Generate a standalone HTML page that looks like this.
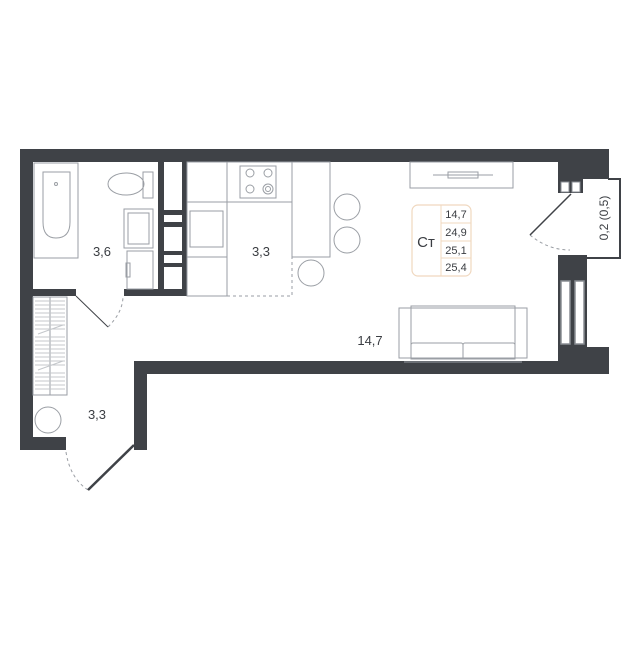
<!DOCTYPE html>
<html><head><meta charset="utf-8"><style>
html,body{margin:0;padding:0;background:#fff;}
svg text{font-family:"Liberation Sans",sans-serif;fill:#3a3d42;}
</style></head><body>
<svg width="640" height="640" viewBox="0 0 640 640" xmlns="http://www.w3.org/2000/svg">
<rect width="640" height="640" fill="#fff"/>
<g fill="#3f4247">
<rect x="20" y="149" width="589" height="13"/>
<rect x="20" y="149" width="13" height="301"/>
<rect x="20" y="437" width="46" height="13"/>
<rect x="134" y="361" width="475" height="13"/>
<rect x="134" y="361" width="13" height="89"/>
<rect x="558" y="149" width="51" height="30"/>
<rect x="558" y="179" width="25" height="14"/>
<rect x="558" y="255" width="29" height="23"/>
<rect x="558" y="278" width="29" height="69"/>
<rect x="558" y="347" width="51" height="27"/>
<rect x="20" y="289" width="56" height="7"/>
<rect x="124" y="289" width="63" height="7"/>
<rect x="158" y="162" width="29" height="134"/>
</g>
<g fill="#fff">
<rect x="164" y="162" width="18" height="48"/>
<rect x="164" y="215" width="18" height="7"/>
<rect x="164" y="227" width="18" height="24"/>
<rect x="164" y="255" width="18" height="8"/>
<rect x="164" y="267" width="18" height="22"/>
<rect x="561" y="182" width="8" height="10" stroke="#8a8e94" stroke-width="1"/>
<rect x="572" y="182" width="8" height="10" stroke="#8a8e94" stroke-width="1"/>
<rect x="561" y="281" width="9" height="63" stroke="#8a8e94" stroke-width="1.5"/>
<rect x="575" y="281" width="9" height="63" stroke="#8a8e94" stroke-width="1.5"/>
</g>
<polyline points="608,179 620,179 620,258 587,258" fill="none" stroke="#3f4247" stroke-width="2"/>
<text transform="translate(608,218) rotate(-90)" font-size="12" text-anchor="middle">0,2 (0,5)</text>
<g fill="none" stroke="#9a9ea4" stroke-width="1">
<rect x="34" y="163" width="44" height="95"/>
<path d="M43,172 H70 V222 Q70,238 56,238 Q43,238 43,222 Z"/>
<circle cx="56" cy="184" r="1.5"/>
<ellipse cx="126" cy="184" rx="18" ry="11"/>
<rect x="143" y="172" width="10" height="26"/>
<rect x="124" y="209" width="29" height="39"/>
<rect x="128" y="213" width="21" height="31"/>
<rect x="127" y="251" width="26" height="38"/>
<rect x="126" y="263" width="4" height="14"/>
<rect x="33" y="297" width="34" height="98"/>
<line x1="50" y1="297" x2="50" y2="395"/>
<path d="M35,301H65M35,305H65M35,309H65M35,313H65M35,317H65M35,321H65M35,325H65M35,329H65M35,337H65M35,341H65M35,345H65M35,349H65M35,353H65M35,357H65M35,361H65M35,365H65M35,373H65M35,377H65M35,381H65M35,385H65M35,389H65M38,334L63,325M38,370L63,361" stroke="#c4c7cb"/>
<circle cx="48" cy="420" r="13"/>
<rect x="187" y="162" width="40" height="40"/>
<rect x="187" y="202" width="40" height="55"/>
<rect x="190" y="211" width="33" height="36"/>
<rect x="187" y="257" width="40" height="39"/>
<rect x="227" y="162" width="65" height="40"/>
<rect x="240" y="166" width="36" height="32"/>
<circle cx="250" cy="173" r="4"/><circle cx="268" cy="173" r="4"/>
<circle cx="250" cy="189" r="4"/><circle cx="268" cy="189" r="5"/><circle cx="268" cy="189" r="2.5"/>
<rect x="292" y="162" width="38" height="95"/>
<circle cx="347" cy="207" r="13"/>
<circle cx="347" cy="240" r="13"/>
<circle cx="311" cy="273" r="13"/>
<rect x="410" y="162" width="103" height="26"/>
<path d="M433,175 H493 M448,172 H478 V178 H448 Z"/>
<rect x="399" y="308" width="128" height="50"/>
<rect x="411" y="306" width="104" height="53"/>
<rect x="411" y="343" width="52" height="16" rx="2"/>
<rect x="463" y="343" width="52" height="16" rx="2"/>
<line x1="404" y1="362" x2="522" y2="362"/>
</g>
<g fill="none" stroke="#9a9ea4" stroke-width="1" stroke-dasharray="3,3">
<polyline points="292,202 292,296 187,296"/>
<path d="M108,327 Q123,312 123,296"/>
<path d="M66,452 Q70,478 88,490"/>
<path d="M530,235 Q548,250 570,250"/>
</g>
<g stroke="#3f4247" fill="none">
<line x1="76" y1="296" x2="108" y2="327" stroke-width="1"/>
<line x1="134" y1="445" x2="88" y2="490" stroke-width="2.5"/>
<line x1="571" y1="194" x2="530" y2="235" stroke-width="1.5"/>
</g>
<rect x="412" y="205" width="59" height="71" rx="6" fill="#fff" stroke="#f0d8bf" stroke-width="1.2"/>
<g stroke="#f0d8bf" stroke-width="1"><line x1="441" y1="205" x2="441" y2="276"/><line x1="441" y1="223" x2="471" y2="223"/><line x1="441" y1="241" x2="471" y2="241"/><line x1="441" y1="258" x2="471" y2="258"/></g>
<text x="426" y="247" font-size="15" text-anchor="middle">Ст</text>
<g font-size="11" text-anchor="middle"><text x="456" y="218">14,7</text><text x="456" y="236">24,9</text><text x="456" y="254">25,1</text><text x="456" y="271">25,4</text></g>
<g font-size="13" text-anchor="middle"><text x="102" y="256">3,6</text><text x="261" y="256">3,3</text><text x="370" y="345">14,7</text><text x="97" y="419">3,3</text></g>
</svg>
</body></html>
